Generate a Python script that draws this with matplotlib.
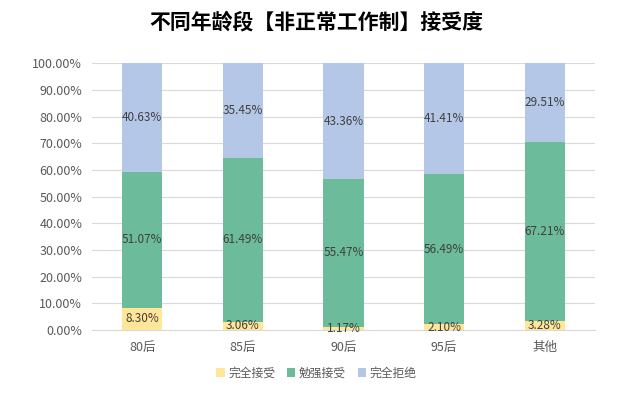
import numpy as np
import matplotlib
matplotlib.use("Agg")
import matplotlib.pyplot as plt
from matplotlib.ticker import FuncFormatter

plt.rcParams['font.family'] = ['Noto Sans CJK SC', 'DejaVu Sans']

# data
groups = ["80后", "85后", "90后", "95后", "其他"]
full_accept = [8.30, 3.06, 1.17, 2.10, 3.28]
reluctant = [51.07, 61.49, 55.47, 56.49, 67.21]
full_reject = [40.63, 35.45, 43.36, 41.41, 29.51]
series_names = ["完全接受", "勉强接受", "完全拒绝"]
colors = ["#FFE699", "#6CBB9A", "#B4C7E7"]

fig = plt.figure(figsize=(6.33, 3.97), dpi=100)
ax = fig.add_axes([0.1453, 0.1688, 0.7946, 0.6718])

x = np.arange(len(groups))
bottom = np.zeros(len(groups))
for name, vals, c in zip(series_names, [full_accept, reluctant, full_reject], colors):
    vals = np.array(vals)
    ax.bar(x, vals, 0.4, bottom=bottom, color=c, label=name, zorder=2)
    for xi, b, v in zip(x, bottom, vals):
        ax.text(xi, b + v / 2, f"{v:.2f}%", ha="center", va="center",
                fontsize=8.5, color="#404040", zorder=3)
    bottom += vals

ax.set_ylim(0, 100)
ax.set_xlim(-0.5, len(groups) - 0.5)
ax.set_yticks(np.arange(0, 101, 10))
ax.yaxis.set_major_formatter(FuncFormatter(lambda v, p: f"{v:.2f}%"))
ax.set_xticks(x)
ax.set_xticklabels(groups)
ax.tick_params(axis="both", length=0, labelsize=9, colors="#595959")
ax.tick_params(axis="y", pad=7)
ax.tick_params(axis="x", pad=8)
ax.grid(axis="y", color="#D9D9D9", linewidth=0.8, zorder=0)
for s in ["top", "right", "left"]:
    ax.spines[s].set_visible(False)
ax.spines["bottom"].set_color("#D9D9D9")

fig.suptitle("不同年龄段【非正常工作制】接受度", y=0.972, fontsize=15,
             fontweight="bold", color="#000000")

fig.legend(loc="center", bbox_to_anchor=(0.5, 0.06), ncol=3, frameon=False,
           fontsize=8.5, handlelength=0.7, handleheight=0.7, columnspacing=1.0,
           handletextpad=0.3, labelcolor="#595959")

fig.savefig("out.png", dpi=100)
